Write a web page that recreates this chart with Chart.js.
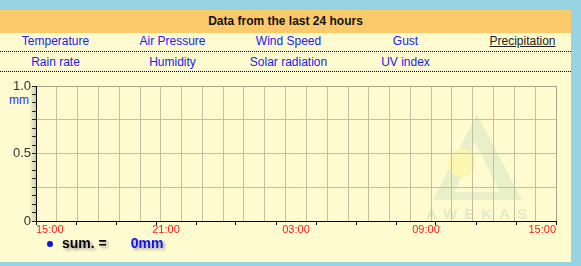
<!DOCTYPE html>
<html>
<head>
<meta charset="utf-8">
<script src="https://cdn.jsdelivr.net/npm/chart.js@4.4.0/dist/chart.umd.min.js"></script>
<style>
  html, body { margin: 0; padding: 0; }
  body { width: 581px; height: 266px; background: #98d3e2; position: relative; overflow: hidden;
         font-family: "Liberation Sans", Arial, sans-serif; }
  #panel { position: absolute; left: 0; top: 10px; width: 571px; height: 252px; background: #fffbd0; }
  #head { position: absolute; left: 0; top: 10px; width: 571px; height: 23px; background: #fcca6a;
          font-weight: bold; font-size: 12px; line-height: 22px; text-align: center; color: #111; }
  .row { position: absolute; left: 0; width: 571px; height: 19px; border-bottom: 1px dotted #000; }
  .lnk { position: absolute; top: 0; width: 117px; margin-left: -58px; text-align: center;
         font-size: 12px; line-height: 18px; color: #2020f0; }
  .cur { color: #222; text-decoration: underline; }
  #unit { position: absolute; left: 9px; top: 93px; font-size: 12px; color: #2030ff; }
  #shade { position: absolute; left: 29px; top: 86px; width: 7px; height: 136px;
           background: linear-gradient(to right, rgba(255,251,208,0), rgba(150,150,140,0.45)); }
  #legend { position: absolute; left: 47px; top: 235px; font-size: 14px; font-weight: bold;
            text-shadow: 2px 2px 3px #9a9a9a; }
  #legend .dot { display: inline-block; width: 6px; height: 6px; border-radius: 3px; background: #1010f0;
                 margin-right: 9px; vertical-align: 1px; }
  #legend .val { color: #1010f0; margin-left: 24px; }
  #wm { position: absolute; left: 420px; top: 100px; }
  #chart { position: absolute; left: 0; top: 72px; }
</style>
</head>
<body>
<div id="panel"></div>
<div id="head">Data from the last 24 hours</div>
<div class="row" style="top:32px">
  <span class="lnk" style="left:55px">Temperature</span>
  <span class="lnk" style="left:172px">Air Pressure</span>
  <span class="lnk" style="left:288px">Wind Speed</span>
  <span class="lnk" style="left:405px">Gust</span>
  <span class="lnk cur" style="left:522px">Precipitation</span>
</div>
<div class="row" style="top:52px">
  <span class="lnk" style="left:55px;top:1px">Rain rate</span>
  <span class="lnk" style="left:172px;top:1px">Humidity</span>
  <span class="lnk" style="left:288px;top:1px">Solar radiation</span>
  <span class="lnk" style="left:405px;top:1px">UV index</span>
</div>
<svg id="wm" width="120" height="122">
  <path d="M57 14 L102 100 L13 100 Z M55 42 L35 92 L80 92 Z" fill="#e3ecc6" fill-rule="evenodd" opacity="0.8"/>
  <circle cx="42" cy="63" r="14" fill="#fbf7b0"/>
  <text x="60" y="119" text-anchor="middle" font-size="15" font-weight="bold" letter-spacing="7"
        fill="#e3ecc6" font-family="Liberation Sans, Arial">AWEKAS</text>
</svg>
<div id="shade"></div>
<div id="unit">mm</div>
<canvas id="chart" width="581" height="168"></canvas>
<div id="legend"><span class="dot"></span>sum. =<span class="val">0mm</span></div>

<script>
// precipitation, last 24 hours (hour offsets from 15:00)
var hours = [0,1,2,3,4,5,6,7,8,9,10,11,12,13,14,15,16,17,18,19,20,21,22,23,24];
var precipitation = [0,0,0,0,0,0,0,0,0,0,0,0,0,0,0,0,0,0,0,0,0,0,0,0,0];

var timeLabels = ["15:00", "21:00", "03:00", "09:00", "15:00"];
var timeLabelHours = [0, 6, 12, 18, 24];

var yLabelValues = [0, 0.5, 1];
var yLabelTexts = ["0", "0.5", "1.0"];

var gridCol = "#c4bf9e";
var edgeCol = "#a8a388";
var clear = "rgba(0,0,0,0)";

function near(a, b) { return Math.abs(a - b) < 1e-6; }
function isGridX(v) { var k = v * 25 / 24; return near(k, Math.round(k)); }
function isTickX(v) { var k = v * 13 / 24; return near(k, Math.round(k)); }
function labelX(v) {
    for (var i = 0; i < timeLabelHours.length; i++) if (near(v, timeLabelHours[i])) return timeLabels[i];
    return "";
}
function labelY(v) {
    for (var i = 0; i < yLabelValues.length; i++) if (near(v, yLabelValues[i])) return yLabelTexts[i];
    return "";
}

var ctx = document.getElementById("chart");

new Chart(ctx, {
    type: "line",
    data: {
        datasets: [
            {
                label: "Precipitation",
                data: hours.map((h, i) => ({ x: h, y: precipitation[i] })),
                borderColor: "#1010f0",
                backgroundColor: "#1010f0",
                showLine: false,
                pointRadius: 0,
            },
        ],
    },
    options: {
        responsive: false,
        animation: false,
        devicePixelRatio: 1,
        layout: { padding: { top: 14, right: 25, bottom: 0, left: 0 } },
        plugins: { legend: { display: false }, tooltip: { enabled: false } },
        scales: {
            x: {
                type: "linear",
                min: 0,
                max: 24,
                afterBuildTicks: (scale) => {
                    var vals = [];
                    for (var j = 0; j <= 25; j++) vals.push(j * 24 / 25);
                    for (var i = 0; i <= 13; i++) vals.push(i * 24 / 13);
                    timeLabelHours.forEach((h) => vals.push(h));
                    vals.sort((a, b) => a - b);
                    var uniq = [];
                    vals.forEach((v) => { if (!uniq.length || !near(uniq[uniq.length - 1], v)) uniq.push(v); });
                    scale.ticks = uniq.map((v) => ({ value: v }));
                },
                afterFit: (scale) => { scale.height = 19; },
                ticks: {
                    autoSkip: false,
                    maxRotation: 0,
                    align: "inner",
                    padding: -2,
                    color: "#ff1a1a",
                    font: { family: "Liberation Sans, Arial", size: 11 },
                    callback: (v) => labelX(v),
                },
                grid: {
                    color: (c) => {
                        var v = c.tick ? c.tick.value : -1;
                        if (near(v, 24)) return edgeCol;
                        return (v > 0 && isGridX(v)) ? gridCol : clear;
                    },
                    tickColor: (c) => (c.tick && isTickX(c.tick.value)) ? "#000" : clear,
                    tickLength: 4,
                    lineWidth: 1,
                },
                border: { color: "#000", width: 1 },
            },
            y: {
                min: 0,
                max: 1,
                afterBuildTicks: (scale) => {
                    var t = [];
                    for (var k = 0; k <= 16; k++) t.push({ value: k / 16 });
                    scale.ticks = t;
                },
                afterFit: (scale) => { scale.width = 36; },
                ticks: {
                    autoSkip: false,
                    padding: 1,
                    color: "#333",
                    font: { family: "Liberation Sans, Arial", size: 13 },
                    callback: (v) => labelY(v),
                },
                grid: {
                    color: (c) => {
                        var v = c.tick ? c.tick.value : -1;
                        if (near(v, 1)) return edgeCol;
                        var k = v * 4;
                        return (v > 0 && near(k, Math.round(k))) ? gridCol : clear;
                    },
                    tickColor: "#222",
                    tickLength: 4,
                    lineWidth: 1,
                },
                border: { color: "#000", width: 1 },
            },
        },
    },
});
</script>
</body>
</html>
